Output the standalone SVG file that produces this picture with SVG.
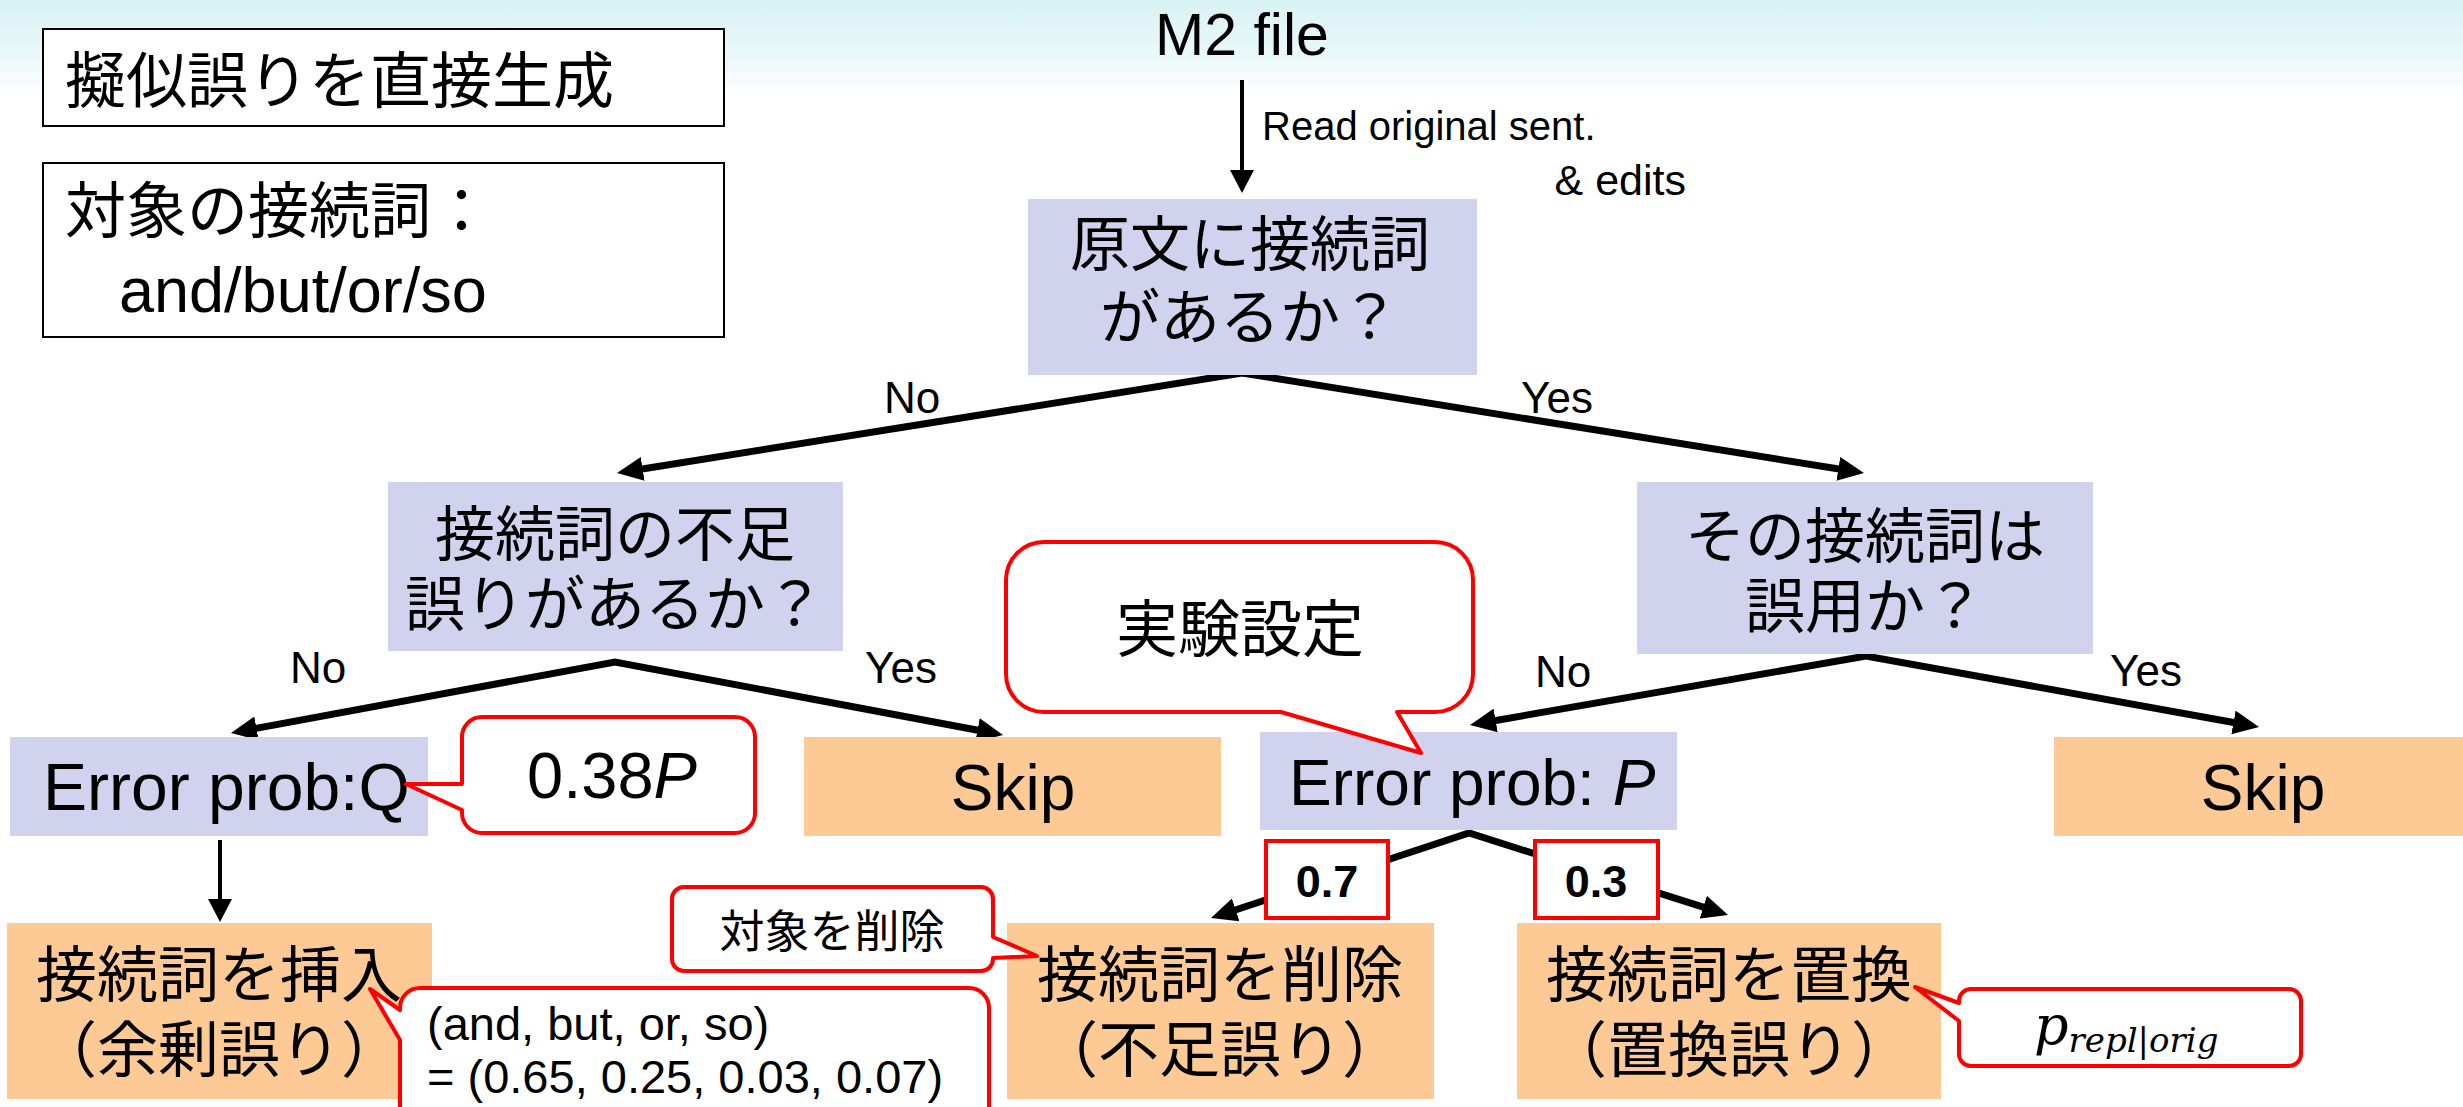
<svg xmlns="http://www.w3.org/2000/svg" width="2463" height="1107" viewBox="0 0 2463 1107">
<defs>
  <linearGradient id="bg" x1="0" y1="0" x2="0" y2="1">
    <stop offset="0" stop-color="#d8f2f4"/>
    <stop offset="0.55" stop-color="#eaf8f9"/>
    <stop offset="1" stop-color="#ffffff"/>
  </linearGradient>
  <marker id="ahThick" markerUnits="userSpaceOnUse" markerWidth="26" markerHeight="24" refX="10" refY="12" orient="auto-start-reverse" viewBox="0 0 26 24">
    <path d="M0,0 L26,12 L0,24 z" fill="#000"/>
  </marker>
  <marker id="ahThin" markerUnits="userSpaceOnUse" markerWidth="23" markerHeight="24" refX="8" refY="12" orient="auto" viewBox="0 0 23 24">
    <path d="M0,0 L23,12 L0,24 z" fill="#000"/>
  </marker>
</defs>
<style>
  .jp{font-family:"Noto Sans CJK JP","Noto Sans CJK SC",sans-serif;fill:#000}
  .en{font-family:"Liberation Sans",Arial,sans-serif;fill:#000}
  .q{fill:#d0d2ee}
  .a{fill:#fdca96}
  .bub{fill:#fff;stroke:#ff0000;stroke-width:4;stroke-linejoin:round}
  .conn{fill:none;stroke:#000;stroke-width:7;stroke-linejoin:miter;stroke-miterlimit:20}
  .thin{fill:none;stroke:#000;stroke-width:4}
  .box{fill:#fff;stroke:#000;stroke-width:2}
  .prob{fill:#fff;stroke:#ff0000;stroke-width:4}
</style>

<rect x="0" y="0" width="2463" height="100" fill="url(#bg)"/>

<g id="title-box">
  <rect class="box" x="43" y="29" width="681" height="97"/>
  <text class="jp" x="65" y="103" font-size="61">擬似誤りを直接生成</text>
</g>

<g id="target-box">
  <rect class="box" x="43" y="163" width="681" height="174"/>
  <text class="jp" x="65" y="233" font-size="61">対象の接続詞：</text>
  <text class="en" x="119" y="312" font-size="63">and/but/or/so</text>
</g>

<g id="m2file">
  <text class="en" x="1242" y="55" font-size="59" text-anchor="middle">M2 file</text>
</g>

<g id="connectors">
  <line class="thin" x1="1242" y1="80" x2="1242" y2="178" marker-end="url(#ahThin)"/>
  <text class="en" x="1262" y="140" font-size="40">Read original sent.</text>
  <text class="en" x="1686" y="195" font-size="43" text-anchor="end">&amp; edits</text>

  <path class="conn" d="M632.8,470.5 L1242,373 L1848.2,470.5" marker-start="url(#ahThick)" marker-end="url(#ahThick)"/>
  <text class="en" x="912" y="413" font-size="44" text-anchor="middle">No</text>
  <text class="en" x="1557" y="413" font-size="44" text-anchor="middle">Yes</text>

  <path class="conn" d="M246.7,730.1 L615,662 L987.3,732" marker-start="url(#ahThick)" marker-end="url(#ahThick)"/>
  <text class="en" x="318" y="683" font-size="44" text-anchor="middle">No</text>
  <text class="en" x="901" y="683" font-size="44" text-anchor="middle">Yes</text>

  <path class="conn" d="M1485.8,722.2 L1866,656 L2243.3,724.2" marker-start="url(#ahThick)" marker-end="url(#ahThick)"/>
  <text class="en" x="1563" y="687" font-size="44" text-anchor="middle">No</text>
  <text class="en" x="2146" y="686" font-size="44" text-anchor="middle">Yes</text>

  <line class="thin" x1="220" y1="840" x2="220" y2="907" marker-end="url(#ahThin)"/>

  <path class="conn" d="M1226.2,913 L1469,833 L1712.8,910.2" marker-start="url(#ahThick)" marker-end="url(#ahThick)"/>
</g>

<g id="q-has-conj">
  <rect class="q" x="1028" y="199" width="449" height="176"/>
  <text class="jp" x="1250" y="266" font-size="60" text-anchor="middle">原文に接続詞</text>
  <text class="jp" x="1250" y="339" font-size="60" text-anchor="middle">があるか？</text>
</g>

<g id="q-missing">
  <rect class="q" x="388" y="482" width="455" height="169"/>
  <text class="jp" x="615" y="556" font-size="60" text-anchor="middle">接続詞の不足</text>
  <text class="jp" x="615" y="626" font-size="60" text-anchor="middle">誤りがあるか？</text>
</g>

<g id="q-misuse">
  <rect class="q" x="1637" y="482" width="456" height="172"/>
  <text class="jp" x="1865" y="558" font-size="60" text-anchor="middle">その接続詞は</text>
  <text class="jp" x="1865" y="628" font-size="60" text-anchor="middle">誤用か？</text>
</g>

<g id="error-q">
  <rect class="q" x="10" y="737" width="418" height="99"/>
  <text class="en" x="43" y="810" font-size="66">Error prob:Q</text>
</g>

<g id="skip-mid">
  <rect class="a" x="804" y="737" width="417" height="99"/>
  <text class="en" x="1013" y="810" font-size="64" text-anchor="middle">Skip</text>
</g>

<g id="skip-right">
  <rect class="a" x="2054" y="737" width="418" height="99"/>
  <text class="en" x="2263" y="810" font-size="64" text-anchor="middle">Skip</text>
</g>

<g id="error-p">
  <rect class="q" x="1260" y="732" width="417" height="98"/>
  <text class="en" x="1289" y="805" font-size="64">Error prob: <tspan font-style="italic">P</tspan></text>
</g>

<g id="insert">
  <rect class="a" x="7" y="923" width="425" height="176"/>
  <text class="jp" x="219" y="997" font-size="61" text-anchor="middle">接続詞を挿入</text>
  <text class="jp" x="219" y="1072" font-size="61" text-anchor="middle">（余剰誤り）</text>
</g>

<g id="delete">
  <rect class="a" x="1007" y="923" width="427" height="176"/>
  <text class="jp" x="1220" y="997" font-size="61" text-anchor="middle">接続詞を削除</text>
  <text class="jp" x="1220" y="1072" font-size="61" text-anchor="middle">（不足誤り）</text>
</g>

<g id="replace">
  <rect class="a" x="1517" y="923" width="424" height="176"/>
  <text class="jp" x="1729" y="997" font-size="61" text-anchor="middle">接続詞を置換</text>
  <text class="jp" x="1729" y="1072" font-size="61" text-anchor="middle">（置換誤り）</text>
</g>

<g id="prob-07">
  <rect class="prob" x="1266" y="841" width="122" height="77"/>
  <text class="en" x="1327" y="897" font-size="45" font-weight="bold" text-anchor="middle">0.7</text>
</g>

<g id="prob-03">
  <rect class="prob" x="1535" y="841" width="123" height="77"/>
  <text class="en" x="1596" y="897" font-size="45" font-weight="bold" text-anchor="middle">0.3</text>
</g>

<g id="callout-038p">
  <path class="bub" d="M482,717 H735 A20,20 0 0 1 755,737 V813 A20,20 0 0 1 735,833 H482 A20,20 0 0 1 462,813 V810 L406,784 L462,784 V737 A20,20 0 0 1 482,717 Z"/>
  <text class="en" x="612" y="798" font-size="65" text-anchor="middle">0.38<tspan font-style="italic">P</tspan></text>
</g>

<g id="callout-setting">
  <path class="bub" d="M1044,542 H1435 A38,38 0 0 1 1473,580 V674 A38,38 0 0 1 1435,712 H1397 L1421,753 L1281,712 H1044 A38,38 0 0 1 1006,674 V580 A38,38 0 0 1 1044,542 Z"/>
  <text class="jp" x="1240" y="652" font-size="62" text-anchor="middle">実験設定</text>
</g>

<g id="callout-delete">
  <path class="bub" d="M684,887 H981 A12,12 0 0 1 993,899 V937 L1037,956 L993,958 V959 A12,12 0 0 1 981,971 H684 A12,12 0 0 1 672,959 V899 A12,12 0 0 1 684,887 Z"/>
  <text class="jp" x="832" y="948" font-size="45" text-anchor="middle">対象を削除</text>
</g>

<g id="callout-dist">
  <path class="bub" d="M420,988 H969 A20,20 0 0 1 989,1008 V1130 H400 V1040 L370,989 L400,1010 V1008 A20,20 0 0 1 420,988 Z"/>
  <text class="en" x="427" y="1040" font-size="47">(and, but, or, so)</text>
  <text class="en" x="427" y="1093" font-size="47">= (0.65, 0.25, 0.03, 0.07)</text>
</g>

<g id="callout-repl">
  <path class="bub" d="M1971,989 H2289 A12,12 0 0 1 2301,1001 V1054 A12,12 0 0 1 2289,1066 H1971 A12,12 0 0 1 1959,1054 V1021 L1915,987 L1959,1003 V1001 A12,12 0 0 1 1971,989 Z"/>
  <text x="2034" y="1044" font-family="DejaVu Serif, serif" font-style="italic" font-size="54">p<tspan font-size="34" dy="8">repl|orig</tspan></text>
</g>
</svg>
